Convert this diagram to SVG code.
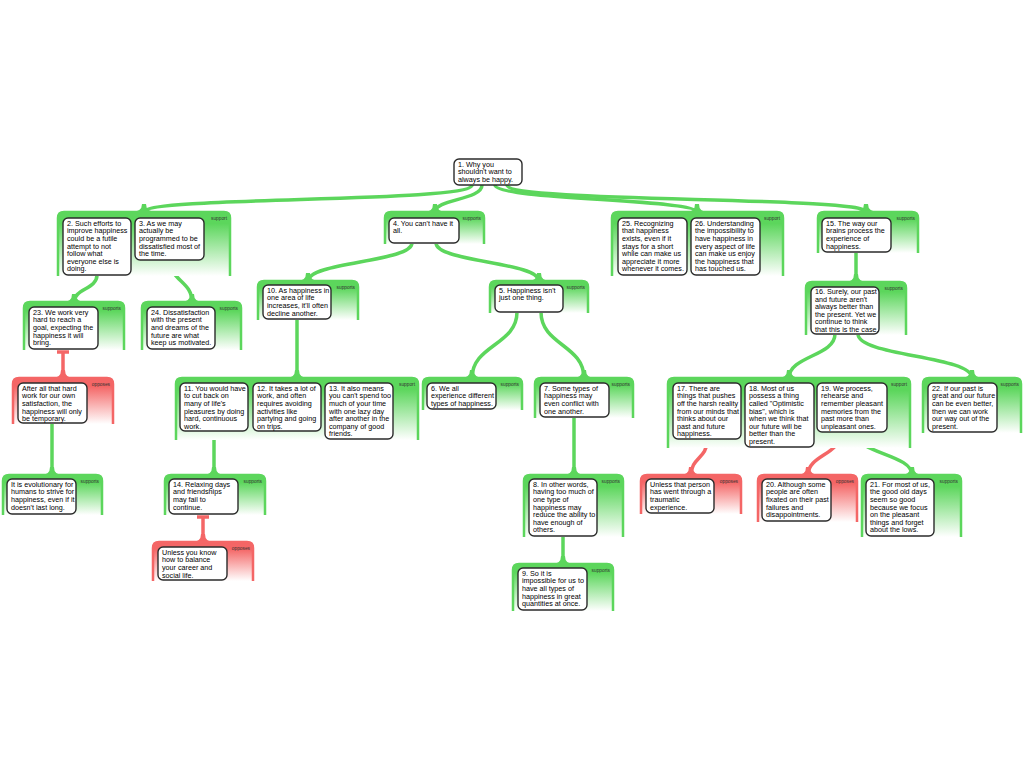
<svg xmlns="http://www.w3.org/2000/svg" width="1024" height="768" viewBox="0 0 1024 768">
<defs>
<linearGradient id="gg" x1="0" y1="0" x2="0" y2="1"><stop offset="0" stop-color="#5cd65c"/><stop offset="0.18" stop-color="#5cd65c"/><stop offset="1" stop-color="#ffffff"/></linearGradient>
<linearGradient id="gr" x1="0" y1="0" x2="0" y2="1"><stop offset="0" stop-color="#f46666"/><stop offset="0.18" stop-color="#f46666"/><stop offset="1" stop-color="#ffffff"/></linearGradient>
</defs>
<style>
.cg{fill:url(#gg);stroke:#5cd65c;stroke-width:2.5}
.cr{fill:url(#gr);stroke:#f46666;stroke-width:2.5}
.box{fill:#fff;stroke:#2b2b2b;stroke-width:1.4}
.t{font-family:"Liberation Sans",Arial,sans-serif;font-size:7.2px;fill:#000}
.lbl{font-family:"Liberation Sans",Arial,sans-serif;font-size:4.8px;fill:#333;text-anchor:end}
.lg{fill:none;stroke:#5cd65c;stroke-width:3.5}
.lr{fill:none;stroke:#f46666;stroke-width:3.5}
.fg{fill:#5cd65c}
.fr{fill:#f46666}
</style>
<rect width="1024" height="768" fill="#fff"/>

<g id="connectors">
<path class="lg" d="M472,185 C472,203 144,196 144,212"/>
<path class="fg" d="M131,212 Q142,212 142,204 L146,204 Q146,212 157,212 Z"/>
<path class="lg" d="M482,185 C482,200 435,199 435,212"/>
<path class="fg" d="M424,212 Q433,212 433,204 L437,204 Q437,212 446,212 Z"/>
<path class="lg" d="M495,185 C495,200 697,199 697,212"/>
<path class="fg" d="M686,212 Q695,212 695,204 L699,204 Q699,212 708,212 Z"/>
<path class="lg" d="M507,185 C507,203 866,196 866,212"/>
<path class="fg" d="M853,212 Q864,212 864,204 L868,204 Q868,212 879,212 Z"/>
<path class="lg" d="M97,275 C97,289 74,289 74,302"/>
<path class="fg" d="M63,302 Q72,302 72,294 L76,294 Q76,302 85,302 Z"/>
<path class="lg" d="M170,260 C170,281 192,281 192,302"/>
<path class="fg" d="M181,302 Q190,302 190,294 L194,294 Q194,302 203,302 Z"/>
<path class="lg" d="M412,243 C412,262 308,262 308,281"/>
<path class="fg" d="M297,281 Q306,281 306,273 L310,273 Q310,281 319,281 Z"/>
<path class="lg" d="M436,243 C436,262 539,262 539,281"/>
<path class="fg" d="M528,281 Q537,281 537,273 L541,273 Q541,281 550,281 Z"/>
<path class="lr" d="M63,351 L63,378"/>
<path class="lr" d="M57,352 L69,352"/>
<path class="fr" d="M52,378 Q61,378 61,370 L65,370 Q65,378 74,378 Z"/>
<path class="lg" d="M52,423 L52,475"/>
<path class="fg" d="M41,475 Q50,475 50,467 L54,467 Q54,475 63,475 Z"/>
<path class="lg" d="M297,319 L297,378"/>
<path class="fg" d="M286,378 Q295,378 295,370 L299,370 Q299,378 308,378 Z"/>
<path class="lg" d="M214,431 L214,475"/>
<path class="fg" d="M203,475 Q212,475 212,467 L216,467 Q216,475 225,475 Z"/>
<path class="lr" d="M203,516 L203,542"/>
<path class="lr" d="M197,517 L209,517"/>
<path class="fr" d="M192,542 Q201,542 201,534 L205,534 Q205,542 214,542 Z"/>
<path class="lg" d="M517,312 C517,345 472,345 472,378"/>
<path class="fg" d="M461,378 Q470,378 470,370 L474,370 Q474,378 483,378 Z"/>
<path class="lg" d="M541,312 C541,345 584,345 584,378"/>
<path class="fg" d="M573,378 Q582,378 582,370 L586,370 Q586,378 595,378 Z"/>
<path class="lg" d="M574,417 L574,475"/>
<path class="fg" d="M563,475 Q572,475 572,467 L576,467 Q576,475 585,475 Z"/>
<path class="lg" d="M563,536 L563,564"/>
<path class="fg" d="M552,564 Q561,564 561,556 L565,556 Q565,564 574,564 Z"/>
<path class="lg" d="M856,252 L856,282"/>
<path class="fg" d="M845,282 Q854,282 854,274 L858,274 Q858,282 867,282 Z"/>
<path class="lg" d="M835,334 C835,356 789,356 789,378"/>
<path class="fg" d="M778,378 Q787,378 787,370 L791,370 Q791,378 800,378 Z"/>
<path class="lg" d="M858,334 C858,356 972,356 972,378"/>
<path class="fg" d="M961,378 Q970,378 970,370 L974,370 Q974,378 983,378 Z"/>
<path class="lr" d="M707,441 C707,458 691,458 691,475"/>
<path class="lr" d="M701,442 L713,442"/>
<path class="fr" d="M680,475 Q689,475 689,467 L693,467 Q693,475 702,475 Z"/>
<path class="lr" d="M840,434 C840,455 808,455 808,475"/>
<path class="lr" d="M834,435 L846,435"/>
<path class="fr" d="M797,475 Q806,475 806,467 L810,467 Q810,475 819,475 Z"/>
<path class="lg" d="M856,432 C856,454 912,454 912,475"/>
<path class="fg" d="M901,475 Q910,475 910,467 L914,467 Q914,475 923,475 Z"/>
</g>

<g id="n1">
<rect class="box" x="454" y="159" width="68" height="26" rx="5"/>
<text class="t" x="458" y="166.8"><tspan x="458">1. Why you</tspan><tspan x="458" dy="7.6">shouldn't want to</tspan><tspan x="458" dy="7.6">always be happy.</tspan></text>
</g>

<g id="grpA">
<path class="cg" d="M58,276 L58,218 Q58,212 64,212 L224,212 Q230,212 230,218 L230,276"/>
<text class="lbl" x="227" y="220">support</text>
<g id="n2"><rect class="box" x="63" y="218" width="68" height="57" rx="5"/>
<text class="t" x="67" y="225.8"><tspan x="67">2. Such efforts to</tspan><tspan x="67" dy="7.6">improve happiness</tspan><tspan x="67" dy="7.6">could be a futile</tspan><tspan x="67" dy="7.6">attempt to not</tspan><tspan x="67" dy="7.6">follow what</tspan><tspan x="67" dy="7.6">everyone else is</tspan><tspan x="67" dy="7.6">doing.</tspan></text></g>
<g id="n3"><rect class="box" x="135" y="218" width="69" height="42" rx="5"/>
<text class="t" x="139" y="225.8"><tspan x="139">3. As we may</tspan><tspan x="139" dy="7.6">actually be</tspan><tspan x="139" dy="7.6">programmed to be</tspan><tspan x="139" dy="7.6">dissatisfied most of</tspan><tspan x="139" dy="7.6">the time.</tspan></text></g>
</g>

<g id="grpB">
<path class="cg" d="M385,244 L385,218 Q385,212 391,212 L478,212 Q484,212 484,218 L484,244"/>
<text class="lbl" x="481" y="220">supports</text>
<g id="n4"><rect class="box" x="389" y="218" width="70" height="25" rx="5"/>
<text class="t" x="393" y="225.8"><tspan x="393">4. You can't have it</tspan><tspan x="393" dy="7.6">all.</tspan></text></g>
</g>

<g id="grpC">
<path class="cg" d="M612,276 L612,218 Q612,212 618,212 L777,212 Q783,212 783,218 L783,276"/>
<text class="lbl" x="780" y="220">support</text>
<g id="n25"><rect class="box" x="618" y="218" width="69" height="57" rx="5"/>
<text class="t" x="622" y="225.8"><tspan x="622">25. Recognizing</tspan><tspan x="622" dy="7.6">that happiness</tspan><tspan x="622" dy="7.6">exists, even if it</tspan><tspan x="622" dy="7.6">stays for a short</tspan><tspan x="622" dy="7.6">while can make us</tspan><tspan x="622" dy="7.6">appreciate it more</tspan><tspan x="622" dy="7.6">whenever it comes.</tspan></text></g>
<g id="n26"><rect class="box" x="691" y="218" width="69" height="57" rx="5"/>
<text class="t" x="695" y="225.8"><tspan x="695">26. Understanding</tspan><tspan x="695" dy="7.6">the impossibility to</tspan><tspan x="695" dy="7.6">have happiness in</tspan><tspan x="695" dy="7.6">every aspect of life</tspan><tspan x="695" dy="7.6">can make us enjoy</tspan><tspan x="695" dy="7.6">the happiness that</tspan><tspan x="695" dy="7.6">has touched us.</tspan></text></g>
</g>

<g id="grpD">
<path class="cg" d="M818,253 L818,218 Q818,212 824,212 L912,212 Q918,212 918,218 L918,253"/>
<text class="lbl" x="915" y="220">supports</text>
<g id="n15"><rect class="box" x="822" y="218" width="69" height="34" rx="5"/>
<text class="t" x="826" y="225.8"><tspan x="826">15. The way our</tspan><tspan x="826" dy="7.6">brains process the</tspan><tspan x="826" dy="7.6">experience of</tspan><tspan x="826" dy="7.6">happiness.</tspan></text></g>
</g>

<g id="grp23">
<path class="cg" d="M24,350 L24,308 Q24,302 30,302 L118,302 Q124,302 124,308 L124,350"/>
<text class="lbl" x="121" y="310">supports</text>
<g id="n23"><rect class="box" x="29" y="307" width="69" height="42" rx="5"/>
<text class="t" x="33" y="314.8"><tspan x="33">23. We work very</tspan><tspan x="33" dy="7.6">hard to reach a</tspan><tspan x="33" dy="7.6">goal, expecting the</tspan><tspan x="33" dy="7.6">happiness it will</tspan><tspan x="33" dy="7.6">bring.</tspan></text></g>
</g>

<g id="grp24">
<path class="cg" d="M142,350 L142,308 Q142,302 148,302 L235,302 Q241,302 241,308 L241,350"/>
<text class="lbl" x="238" y="310">supports</text>
<g id="n24"><rect class="box" x="147" y="307" width="68" height="42" rx="5"/>
<text class="t" x="151" y="314.8"><tspan x="151">24. Dissatisfaction</tspan><tspan x="151" dy="7.6">with the present</tspan><tspan x="151" dy="7.6">and dreams of the</tspan><tspan x="151" dy="7.6">future are what</tspan><tspan x="151" dy="7.6">keep us motivated.</tspan></text></g>
</g>

<g id="grp10">
<path class="cg" d="M258,320 L258,287 Q258,281 264,281 L352,281 Q358,281 358,287 L358,320"/>
<text class="lbl" x="355" y="289">supports</text>
<g id="n10"><rect class="box" x="263" y="285" width="68" height="34" rx="5"/>
<text class="t" x="267" y="292.8"><tspan x="267">10. As happiness in</tspan><tspan x="267" dy="7.6">one area of life</tspan><tspan x="267" dy="7.6">increases, it'll often</tspan><tspan x="267" dy="7.6">decline another.</tspan></text></g>
</g>

<g id="grp5">
<path class="cg" d="M490,313 L490,287 Q490,281 496,281 L582,281 Q588,281 588,287 L588,313"/>
<text class="lbl" x="585" y="289">supports</text>
<g id="n5"><rect class="box" x="495" y="285" width="68" height="27" rx="5"/>
<text class="t" x="499" y="292.8"><tspan x="499">5. Happiness isn't</tspan><tspan x="499" dy="7.6">just one thing.</tspan></text></g>
</g>

<g id="grp16">
<path class="cg" d="M806,335 L806,288 Q806,282 812,282 L900,282 Q906,282 906,288 L906,335"/>
<text class="lbl" x="903" y="290">supports</text>
<g id="n16"><rect class="box" x="811" y="287" width="68" height="47" rx="5"/>
<text class="t" x="815" y="294.3"><tspan x="815">16. Surely, our past</tspan><tspan x="815" dy="7.5">and future aren't</tspan><tspan x="815" dy="7.5">always better than</tspan><tspan x="815" dy="7.5">the present. Yet we</tspan><tspan x="815" dy="7.5">continue to think</tspan><tspan x="815" dy="7.5">that this is the case.</tspan></text></g>
</g>

<g id="grpOpp23">
<path class="cr" d="M13,424 L13,384 Q13,378 19,378 L107,378 Q113,378 113,384 L113,424"/>
<text class="lbl" x="110" y="386">opposes</text>
<g id="nOpp23"><rect class="box" x="18" y="383" width="69" height="40" rx="5"/>
<text class="t" x="22" y="390.8"><tspan x="22">After all that hard</tspan><tspan x="22" dy="7.6">work for our own</tspan><tspan x="22" dy="7.6">satisfaction, the</tspan><tspan x="22" dy="7.6">happiness will only</tspan><tspan x="22" dy="7.6">be temporary.</tspan></text></g>
</g>

<g id="grp11">
<path class="cg" d="M176,440 L176,384 Q176,378 182,378 L412,378 Q418,378 418,384 L418,440"/>
<text class="lbl" x="415" y="386">support</text>
<g id="n11"><rect class="box" x="180" y="383" width="68" height="48" rx="5"/>
<text class="t" x="184" y="390.8"><tspan x="184">11. You would have</tspan><tspan x="184" dy="7.6">to cut back on</tspan><tspan x="184" dy="7.6">many of life's</tspan><tspan x="184" dy="7.6">pleasures by doing</tspan><tspan x="184" dy="7.6">hard, continuous</tspan><tspan x="184" dy="7.6">work.</tspan></text></g>
<g id="n12"><rect class="box" x="253" y="383" width="68" height="48" rx="5"/>
<text class="t" x="257" y="390.8"><tspan x="257">12. It takes a lot of</tspan><tspan x="257" dy="7.6">work, and often</tspan><tspan x="257" dy="7.6">requires avoiding</tspan><tspan x="257" dy="7.6">activities like</tspan><tspan x="257" dy="7.6">partying and going</tspan><tspan x="257" dy="7.6">on trips.</tspan></text></g>
<g id="n13"><rect class="box" x="325" y="383" width="68" height="56" rx="5"/>
<text class="t" x="329" y="390.8"><tspan x="329">13. It also means</tspan><tspan x="329" dy="7.6">you can't spend too</tspan><tspan x="329" dy="7.6">much of your time</tspan><tspan x="329" dy="7.6">with one lazy day</tspan><tspan x="329" dy="7.6">after another in the</tspan><tspan x="329" dy="7.6">company of good</tspan><tspan x="329" dy="7.6">friends.</tspan></text></g>
</g>

<g id="grp6">
<path class="cg" d="M423,410 L423,384 Q423,378 429,378 L516,378 Q522,378 522,384 L522,410"/>
<text class="lbl" x="519" y="386">supports</text>
<g id="n6"><rect class="box" x="427" y="383" width="69" height="26" rx="5"/>
<text class="t" x="431" y="390.8"><tspan x="431">6. We all</tspan><tspan x="431" dy="7.6">experience different</tspan><tspan x="431" dy="7.6">types of happiness.</tspan></text></g>
</g>

<g id="grp7">
<path class="cg" d="M535,418 L535,384 Q535,378 541,378 L627,378 Q633,378 633,384 L633,418"/>
<text class="lbl" x="630" y="386">supports</text>
<g id="n7"><rect class="box" x="540" y="383" width="69" height="34" rx="5"/>
<text class="t" x="544" y="390.8"><tspan x="544">7. Some types of</tspan><tspan x="544" dy="7.6">happiness may</tspan><tspan x="544" dy="7.6">even conflict with</tspan><tspan x="544" dy="7.6">one another.</tspan></text></g>
</g>

<g id="grp17">
<path class="cg" d="M668,448 L668,384 Q668,378 674,378 L904,378 Q910,378 910,384 L910,448"/>
<text class="lbl" x="907" y="386">support</text>
<g id="n17"><rect class="box" x="673" y="383" width="68" height="56" rx="5"/>
<text class="t" x="677" y="390.8"><tspan x="677">17. There are</tspan><tspan x="677" dy="7.6">things that pushes</tspan><tspan x="677" dy="7.6">off the harsh reality</tspan><tspan x="677" dy="7.6">from our minds that</tspan><tspan x="677" dy="7.6">thinks about our</tspan><tspan x="677" dy="7.6">past and future</tspan><tspan x="677" dy="7.6">happiness.</tspan></text></g>
<g id="n18"><rect class="box" x="745" y="383" width="69" height="64" rx="5"/>
<text class="t" x="749" y="390.8"><tspan x="749">18. Most of us</tspan><tspan x="749" dy="7.6">possess a thing</tspan><tspan x="749" dy="7.6">called "Optimistic</tspan><tspan x="749" dy="7.6">bias", which is</tspan><tspan x="749" dy="7.6">when we think that</tspan><tspan x="749" dy="7.6">our future will be</tspan><tspan x="749" dy="7.6">better than the</tspan><tspan x="749" dy="7.6">present.</tspan></text></g>
<g id="n19"><rect class="box" x="817" y="383" width="70" height="49" rx="5"/>
<text class="t" x="821" y="390.8"><tspan x="821">19. We process,</tspan><tspan x="821" dy="7.6">rehearse and</tspan><tspan x="821" dy="7.6">remember pleasant</tspan><tspan x="821" dy="7.6">memories from the</tspan><tspan x="821" dy="7.6">past more than</tspan><tspan x="821" dy="7.6">unpleasant ones.</tspan></text></g>
</g>

<g id="grp22">
<path class="cg" d="M923,433 L923,384 Q923,378 929,378 L1015,378 Q1021,378 1021,384 L1021,433"/>
<text class="lbl" x="1019" y="386">supports</text>
<g id="n22"><rect class="box" x="928" y="383" width="69" height="49" rx="5"/>
<text class="t" x="932" y="390.8"><tspan x="932">22. If our past is</tspan><tspan x="932" dy="7.6">great and our future</tspan><tspan x="932" dy="7.6">can be even better,</tspan><tspan x="932" dy="7.6">then we can work</tspan><tspan x="932" dy="7.6">our way out of the</tspan><tspan x="932" dy="7.6">present.</tspan></text></g>
</g>

<g id="grpEvo">
<path class="cg" d="M3,515 L3,481 Q3,475 9,475 L96,475 Q102,475 102,481 L102,515"/>
<text class="lbl" x="99" y="483">supports</text>
<g id="nEvo"><rect class="box" x="7" y="479" width="69" height="35" rx="5"/>
<text class="t" x="11" y="486.8"><tspan x="11">It is evolutionary for</tspan><tspan x="11" dy="7.6">humans to strive for</tspan><tspan x="11" dy="7.6">happiness, even if it</tspan><tspan x="11" dy="7.6">doesn't last long.</tspan></text></g>
</g>

<g id="grp14">
<path class="cg" d="M165,515 L165,481 Q165,475 171,475 L259,475 Q265,475 265,481 L265,515"/>
<text class="lbl" x="262" y="483">supports</text>
<g id="n14"><rect class="box" x="169" y="479" width="69" height="35" rx="5"/>
<text class="t" x="173" y="486.8"><tspan x="173">14. Relaxing days</tspan><tspan x="173" dy="7.6">and friendships</tspan><tspan x="173" dy="7.6">may fail to</tspan><tspan x="173" dy="7.6">continue.</tspan></text></g>
</g>

<g id="grpUnless14">
<path class="cr" d="M153,581 L153,548 Q153,542 159,542 L247,542 Q253,542 253,548 L253,581"/>
<text class="lbl" x="250" y="550">opposes</text>
<g id="nUnless14"><rect class="box" x="158" y="547" width="69" height="33" rx="5"/>
<text class="t" x="162" y="554.8"><tspan x="162">Unless you know</tspan><tspan x="162" dy="7.6">how to balance</tspan><tspan x="162" dy="7.6">your career and</tspan><tspan x="162" dy="7.6">social life.</tspan></text></g>
</g>

<g id="grp8">
<path class="cg" d="M524,537 L524,481 Q524,475 530,475 L617,475 Q623,475 623,481 L623,537"/>
<text class="lbl" x="620" y="483">supports</text>
<g id="n8"><rect class="box" x="529" y="479" width="68" height="57" rx="5"/>
<text class="t" x="533" y="486.8"><tspan x="533">8. In other words,</tspan><tspan x="533" dy="7.6">having too much of</tspan><tspan x="533" dy="7.6">one type of</tspan><tspan x="533" dy="7.6">happiness may</tspan><tspan x="533" dy="7.6">reduce the ability to</tspan><tspan x="533" dy="7.6">have enough of</tspan><tspan x="533" dy="7.6">others.</tspan></text></g>
</g>

<g id="grp9">
<path class="cg" d="M513,611 L513,570 Q513,564 519,564 L607,564 Q613,564 613,570 L613,611"/>
<text class="lbl" x="610" y="572">supports</text>
<g id="n9"><rect class="box" x="518" y="568" width="69" height="42" rx="5"/>
<text class="t" x="522" y="575.8"><tspan x="522">9. So it is</tspan><tspan x="522" dy="7.6">impossible for us to</tspan><tspan x="522" dy="7.6">have all types of</tspan><tspan x="522" dy="7.6">happiness in great</tspan><tspan x="522" dy="7.6">quantities at once.</tspan></text></g>
</g>

<g id="grpUnless17">
<path class="cr" d="M641,514 L641,481 Q641,475 647,475 L735,475 Q741,475 741,481 L741,514"/>
<text class="lbl" x="738" y="483">opposes</text>
<g id="nUnless17"><rect class="box" x="646" y="479" width="68" height="34" rx="5"/>
<text class="t" x="650" y="486.8"><tspan x="650">Unless that person</tspan><tspan x="650" dy="7.6">has went through a</tspan><tspan x="650" dy="7.6">traumatic</tspan><tspan x="650" dy="7.6">experience.</tspan></text></g>
</g>

<g id="grp20">
<path class="cr" d="M758,522 L758,481 Q758,475 764,475 L851,475 Q857,475 857,481 L857,522"/>
<text class="lbl" x="854" y="483">opposes</text>
<g id="n20"><rect class="box" x="762" y="479" width="69" height="42" rx="5"/>
<text class="t" x="766" y="486.8"><tspan x="766">20. Although some</tspan><tspan x="766" dy="7.6">people are often</tspan><tspan x="766" dy="7.6">fixated on their past</tspan><tspan x="766" dy="7.6">failures and</tspan><tspan x="766" dy="7.6">disappointments.</tspan></text></g>
</g>

<g id="grp21">
<path class="cg" d="M862,537 L862,481 Q862,475 868,475 L955,475 Q961,475 961,481 L961,537"/>
<text class="lbl" x="958" y="483">supports</text>
<g id="n21"><rect class="box" x="866" y="479" width="68" height="57" rx="5"/>
<text class="t" x="870" y="486.8"><tspan x="870">21. For most of us,</tspan><tspan x="870" dy="7.6">the good old days</tspan><tspan x="870" dy="7.6">seem so good</tspan><tspan x="870" dy="7.6">because we focus</tspan><tspan x="870" dy="7.6">on the pleasant</tspan><tspan x="870" dy="7.6">things and forget</tspan><tspan x="870" dy="7.6">about the lows.</tspan></text></g>
</g>
</svg>
